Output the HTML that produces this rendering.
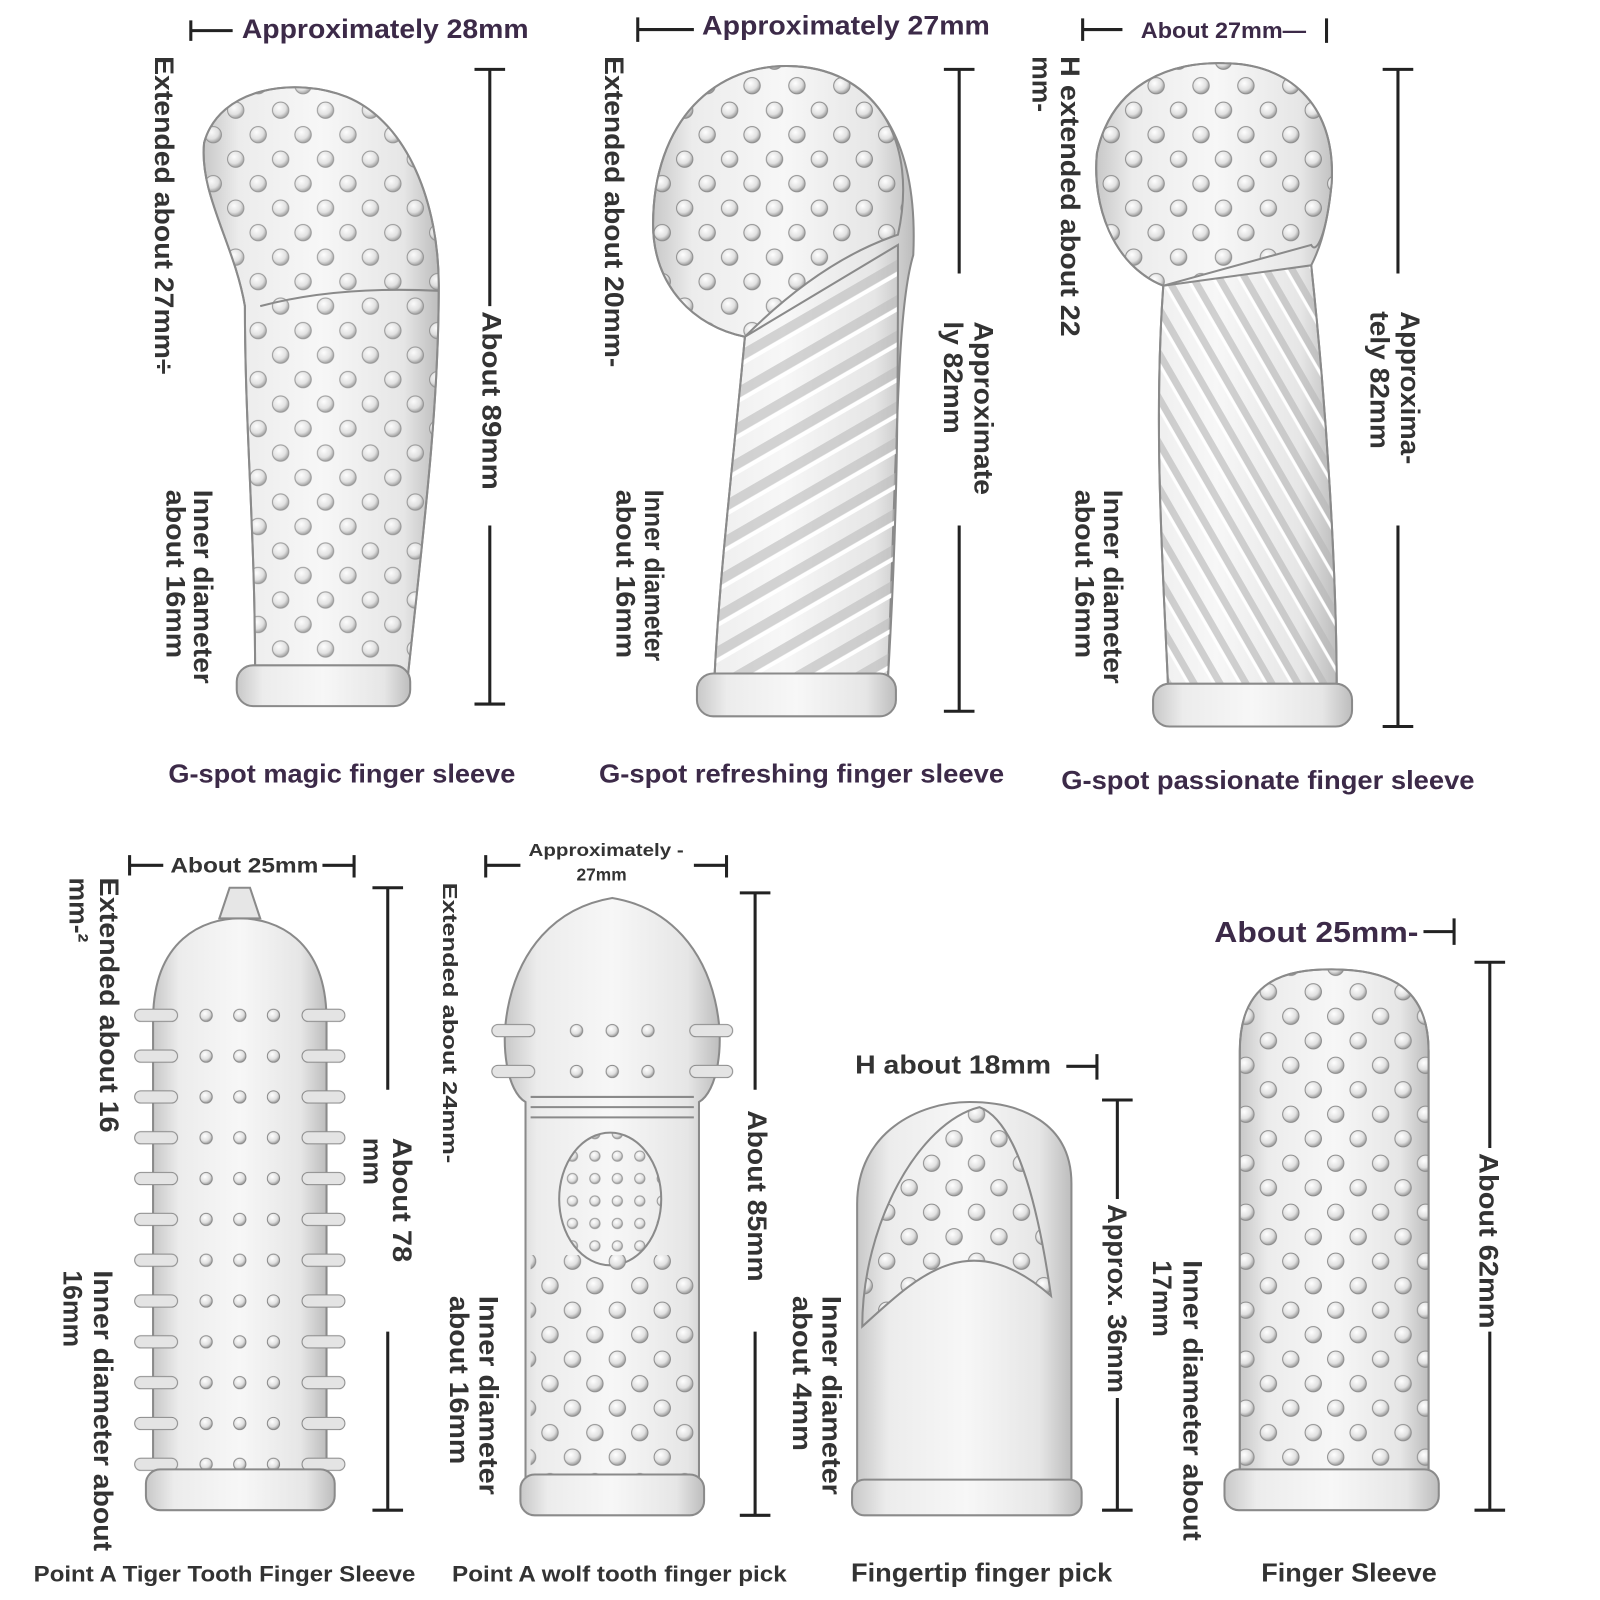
<!DOCTYPE html>
<html><head><meta charset="utf-8"><style>
html,body{margin:0;padding:0;background:#fff;}
svg{display:block;}
text{font-family:"Liberation Sans",sans-serif;font-weight:bold;fill:#333;}
.h{fill:#3c2a48;}
</style></head><body>
<svg width="1600" height="1600" viewBox="0 0 1568 1568" xmlns="http://www.w3.org/2000/svg">
<defs>
<linearGradient id="body" x1="0" x2="1" y1="0" y2="0">
<stop offset="0" stop-color="#c8c8c8"/><stop offset="0.15" stop-color="#ececec"/><stop offset="0.5" stop-color="#f7f7f7"/><stop offset="0.85" stop-color="#e6e6e6"/><stop offset="1" stop-color="#bdbdbd"/>
</linearGradient>
<radialGradient id="dotg" cx="0.4" cy="0.35" r="0.7"><stop offset="0" stop-color="#fff"/><stop offset="0.6" stop-color="#e0e0e0"/><stop offset="1" stop-color="#8a8a8a"/></radialGradient>
<pattern id="dots" width="44" height="48" patternUnits="userSpaceOnUse">
<circle cx="11" cy="12" r="8" fill="url(#dotg)" stroke="#8c8c8c" stroke-width="1"/>
<circle cx="33" cy="36" r="8" fill="url(#dotg)" stroke="#8c8c8c" stroke-width="1"/>
</pattern>
<pattern id="sdots" width="22" height="22" patternUnits="userSpaceOnUse">
<circle cx="11" cy="11" r="5" fill="url(#dotg)" stroke="#999" stroke-width="1"/>
</pattern>
<pattern id="ribs" width="30" height="30" patternUnits="userSpaceOnUse" patternTransform="rotate(-30)">
<rect y="0" width="30" height="10" fill="#bbb" opacity="0.6"/>
<rect y="10" width="30" height="4" fill="#fff"/>
</pattern>
<pattern id="ribs2" width="22" height="22" patternUnits="userSpaceOnUse" patternTransform="rotate(60)">
<rect y="0" width="22" height="7" fill="#b5b5b5" opacity="0.6"/>
<rect y="7" width="22" height="3" fill="#fff"/>
</pattern>
<pattern id="teeth" x="130" y="975" width="210" height="40" patternUnits="userSpaceOnUse">
<rect x="2" y="14" width="42" height="12" rx="6" fill="#e4e4e4" stroke="#888"/>
<rect x="166" y="14" width="42" height="12" rx="6" fill="#e4e4e4" stroke="#888"/>
<circle cx="105" cy="20" r="6" fill="url(#dotg)" stroke="#888"/>
<circle cx="72" cy="20" r="6" fill="url(#dotg)" stroke="#888"/>
<circle cx="138" cy="20" r="6" fill="url(#dotg)" stroke="#888"/>
</pattern>
<pattern id="teeth2" x="480" y="990" width="240" height="40" patternUnits="userSpaceOnUse">
<rect x="2" y="14" width="42" height="12" rx="6" fill="#e4e4e4" stroke="#888"/>
<rect x="196" y="14" width="42" height="12" rx="6" fill="#e4e4e4" stroke="#888"/>
<circle cx="120" cy="20" r="6" fill="url(#dotg)" stroke="#888"/>
<circle cx="85" cy="20" r="6" fill="url(#dotg)" stroke="#888"/>
<circle cx="155" cy="20" r="6" fill="url(#dotg)" stroke="#888"/>
</pattern>
</defs>

<g stroke="#222" stroke-width="3" fill="none">
<path d="M187 20V40M187 30H228"/>
<path d="M625 17V41M625 29H680"/>
<path d="M1061 18V40M1061 29H1100M1300 18V42"/>
<path d="M465 68H495M480 68V300M480 515V690M465 690H495"/>
<path d="M925 68H955M940 68V268M940 515V697M925 697H955"/>
<path d="M1355 68H1385M1370 68V268M1370 515V712M1355 712H1385"/>
<path d="M127 838V858M127 848H160M316 848H347M347 838V860"/>
<path d="M476 838V860M476 848H510M680 848H712M712 838V860"/>
<path d="M1045 1045H1075M1075 1033V1058"/>
<path d="M1395 913H1425M1425 900V926"/>
<path d="M365 870H395M380 870V1068M380 1305V1480M365 1480H395"/>
<path d="M725 875H755M740 875V1068M740 1305V1485M725 1485H755"/>
<path d="M1080 1078H1110M1095 1078V1175M1095 1370V1480M1080 1480H1110"/>
<path d="M1445 943H1475M1460 943V1125M1460 1305V1480M1445 1480H1475"/>
</g>

<g stroke="#8a8a8a" stroke-width="2">
<path d="M250 660 C250 520 240 420 240 300 C230 240 195 190 200 140 C215 85 290 75 340 95 C400 120 430 200 430 280 C430 400 415 520 400 660 Z" fill="url(#body)"/>
<path d="M250 660 C250 520 240 420 240 300 C230 240 195 190 200 140 C215 85 290 75 340 95 C400 120 430 200 430 280 C430 400 415 520 400 660 Z" fill="url(#dots)" opacity="0.9"/>
<path d="M255 300 Q330 280 430 285" fill="none"/>
<rect x="232" y="652" width="170" height="40" rx="16" fill="url(#body)"/>
</g>
<g stroke="#8a8a8a" stroke-width="2">
<path d="M700 668 C705 560 720 440 730 330 C680 320 640 280 640 220 C640 120 700 60 780 65 C860 70 900 140 895 250 C880 300 880 400 870 668 Z" fill="url(#body)"/>
<path d="M700 668 C705 560 720 440 730 330 L880 240 C880 400 880 500 870 668 Z" fill="url(#ribs)"/>
<path d="M730 330 C680 320 640 280 640 220 C640 120 700 60 780 65 C860 70 900 140 880 230 C820 250 770 290 730 330 Z" fill="url(#dots)"/>
<rect x="683" y="660" width="195" height="42" rx="16" fill="url(#body)"/>
</g>
<g stroke="#8a8a8a" stroke-width="2">
<path d="M1145 680 C1140 560 1130 420 1140 280 C1090 260 1070 200 1075 150 C1090 80 1150 60 1200 62 C1260 62 1310 100 1305 180 C1300 230 1290 250 1285 260 C1300 400 1310 560 1310 680 Z" fill="url(#body)"/>
<path d="M1145 680 C1140 560 1130 420 1140 280 L1285 260 C1300 400 1310 560 1310 680 Z" fill="url(#ribs2)"/>
<path d="M1140 280 C1090 260 1070 200 1075 150 C1090 80 1150 60 1200 62 C1260 62 1310 100 1305 180 C1300 230 1290 250 1285 240 Z" fill="url(#dots)"/>
<rect x="1130" y="670" width="195" height="42" rx="16" fill="url(#body)"/>
</g>
<g stroke="#8a8a8a" stroke-width="2">
<path d="M150 1450 V1000 C150 920 200 900 235 900 C270 900 320 920 320 1000 V1450 Z" fill="url(#body)"/>
<rect x="130" y="975" width="210" height="470" fill="url(#teeth)" stroke="none"/>
<path d="M215 900 L225 870 L245 870 L255 900 Z" fill="#e6e6e6"/>
<rect x="143" y="1440" width="185" height="40" rx="14" fill="url(#body)"/>
</g>
<g stroke="#8a8a8a" stroke-width="2">
<path d="M515 1460 V1080 C480 1060 480 900 600 880 C720 900 720 1060 685 1080 V1460 Z" fill="url(#body)"/>
<rect x="480" y="990" width="240" height="80" fill="url(#teeth2)" stroke="none"/>
<path d="M520 1075 H680 M520 1085 H680 M520 1095 H680" fill="none"/>
<ellipse cx="598" cy="1175" rx="50" ry="65" fill="url(#sdots)"/>
<rect x="520" y="1230" width="160" height="220" fill="url(#dots)" stroke="none"/>
<rect x="510" y="1445" width="180" height="40" rx="14" fill="url(#body)"/>
</g>
<g stroke="#8a8a8a" stroke-width="2">
<path d="M840 1470 V1180 C840 1110 900 1080 950 1080 C1000 1080 1050 1100 1050 1160 V1470 Z" fill="url(#body)"/>
<path d="M845 1300 C845 1200 900 1100 960 1085 C1000 1100 1020 1200 1030 1270 C950 1200 900 1250 845 1300 Z" fill="url(#dots)"/>
<rect x="835" y="1450" width="225" height="35" rx="12" fill="url(#body)"/>
</g>
<g stroke="#8a8a8a" stroke-width="2">
<path d="M1215 1450 V1030 C1215 960 1260 950 1305 950 C1350 950 1400 960 1400 1030 V1450 Z" fill="url(#body)"/>
<path d="M1215 1450 V1030 C1215 960 1260 950 1305 950 C1350 950 1400 960 1400 1030 V1450 Z" fill="url(#dots)"/>
<rect x="1200" y="1440" width="210" height="40" rx="14" fill="url(#body)"/>
</g>

<text class="h" x="237" y="37" font-size="26" textLength="281" lengthAdjust="spacingAndGlyphs">Approximately 28mm</text>
<text class="h" x="688" y="34" font-size="26" textLength="282" lengthAdjust="spacingAndGlyphs">Approximately 27mm</text>
<text class="h" x="1118" y="37" font-size="22" textLength="162" lengthAdjust="spacingAndGlyphs">About 27mm—</text>
<text class="h" x="165" y="767" font-size="25" textLength="340" lengthAdjust="spacingAndGlyphs">G-spot magic finger sleeve</text>
<text class="h" x="587" y="767" font-size="25" textLength="397" lengthAdjust="spacingAndGlyphs">G-spot refreshing finger sleeve</text>
<text class="h" x="1040" y="773" font-size="25" textLength="405" lengthAdjust="spacingAndGlyphs">G-spot passionate finger sleeve</text>
<text x="167" y="855" font-size="21" textLength="145" lengthAdjust="spacingAndGlyphs">About 25mm</text>
<text x="518" y="839" font-size="17" textLength="152" lengthAdjust="spacingAndGlyphs">Approximately -</text>
<text x="565" y="863" font-size="17">27mm</text>
<text x="838" y="1052" font-size="25" textLength="192" lengthAdjust="spacingAndGlyphs">H about 18mm</text>
<text class="h" x="1190" y="923" font-size="28" textLength="200" lengthAdjust="spacingAndGlyphs">About 25mm-</text>
<text x="33" y="1550" font-size="22" textLength="374" lengthAdjust="spacingAndGlyphs">Point A Tiger Tooth Finger Sleeve</text>
<text x="443" y="1550" font-size="22" textLength="328" lengthAdjust="spacingAndGlyphs">Point A wolf tooth finger pick</text>
<text x="834" y="1550" font-size="25" textLength="256" lengthAdjust="spacingAndGlyphs">Fingertip finger pick</text>
<text x="1236" y="1550" font-size="25" textLength="172" lengthAdjust="spacingAndGlyphs">Finger Sleeve</text>

<g font-size="26">
<text transform="translate(152,55) rotate(90)" textLength="312" lengthAdjust="spacingAndGlyphs">Extended about 27mm÷</text>
<text transform="translate(190,480) rotate(90)" textLength="190" lengthAdjust="spacingAndGlyphs">Inner diameter</text>
<text transform="translate(163,480) rotate(90)" textLength="165" lengthAdjust="spacingAndGlyphs">about 16mm</text>
<text transform="translate(473,305) rotate(90)" textLength="175" lengthAdjust="spacingAndGlyphs">About 89mm</text>

<text transform="translate(593,55) rotate(90)" textLength="305" lengthAdjust="spacingAndGlyphs">Extended about 20mm-</text>
<text transform="translate(632,480) rotate(90)" textLength="168" lengthAdjust="spacingAndGlyphs">Inner diameter</text>
<text transform="translate(604,480) rotate(90)" textLength="165" lengthAdjust="spacingAndGlyphs">about 16mm</text>
<text transform="translate(955,315) rotate(90)" textLength="170" lengthAdjust="spacingAndGlyphs">Approximate</text>
<text transform="translate(925,315) rotate(90)" textLength="110" lengthAdjust="spacingAndGlyphs">ly 82mm</text>

<text transform="translate(1040,55) rotate(90)" textLength="275" lengthAdjust="spacingAndGlyphs">H extended about 22</text>
<text transform="translate(1012,55) rotate(90)">mm-</text>
<text transform="translate(1082,480) rotate(90)" textLength="190" lengthAdjust="spacingAndGlyphs">Inner diameter</text>
<text transform="translate(1054,480) rotate(90)" textLength="165" lengthAdjust="spacingAndGlyphs">about 16mm</text>
<text transform="translate(1373,305) rotate(90)" textLength="150" lengthAdjust="spacingAndGlyphs">Approxima-</text>
<text transform="translate(1343,305) rotate(90)" textLength="135" lengthAdjust="spacingAndGlyphs">tely 82mm</text>

<text transform="translate(98,860) rotate(90)" textLength="250" lengthAdjust="spacingAndGlyphs">Extended about 16</text>
<text transform="translate(68,860) rotate(90)">mm-²</text>
<text transform="translate(385,1115) rotate(90)" textLength="122" lengthAdjust="spacingAndGlyphs">About 78</text>
<text transform="translate(356,1115) rotate(90)">mm</text>
<text transform="translate(92,1245) rotate(90)" textLength="275" lengthAdjust="spacingAndGlyphs">Inner diameter about</text>
<text transform="translate(62,1245) rotate(90)">16mm</text>

<text transform="translate(434,865) rotate(90)" font-size="20" textLength="275" lengthAdjust="spacingAndGlyphs">Extended about 24mm-</text>
<text transform="translate(733,1088) rotate(90)" textLength="168" lengthAdjust="spacingAndGlyphs">About 85mm</text>
<text transform="translate(470,1270) rotate(90)" textLength="195" lengthAdjust="spacingAndGlyphs">Inner diameter</text>
<text transform="translate(441,1270) rotate(90)" textLength="165" lengthAdjust="spacingAndGlyphs">about 16mm</text>

<text transform="translate(806,1270) rotate(90)" textLength="195" lengthAdjust="spacingAndGlyphs">Inner diameter</text>
<text transform="translate(777,1270) rotate(90)" textLength="152" lengthAdjust="spacingAndGlyphs">about 4mm</text>
<text transform="translate(1086,1180) rotate(90)" textLength="185" lengthAdjust="spacingAndGlyphs">Approx. 36mm</text>
<text transform="translate(1160,1235) rotate(90)" textLength="275" lengthAdjust="spacingAndGlyphs">Inner diameter about</text>
<text transform="translate(1130,1235) rotate(90)">17mm</text>
<text transform="translate(1450,1130) rotate(90)" textLength="172" lengthAdjust="spacingAndGlyphs">About 62mm</text>
</g>
</svg>
</body></html>
